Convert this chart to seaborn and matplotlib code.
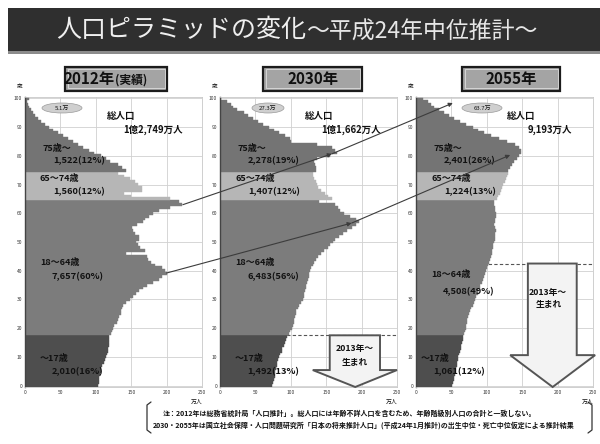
import numpy as np
import pandas as pd
import matplotlib
matplotlib.use("Agg")
import matplotlib.pyplot as plt
import seaborn as sns
from matplotlib.patches import Rectangle, Ellipse, Polygon, ConnectionPatch
from matplotlib.lines import Line2D

# ---- data: population by single year of age (万人), ages 0..100 ----
ages = list(range(101))

pop_2012 = [
    103, 104, 104, 105, 106, 107, 108, 109, 111, 113, 115, 116, 117, 117, 118, 119, 119, 119,
    122, 123, 124, 126, 130, 131, 133, 135, 136, 137, 139, 142,
    148, 153, 157, 161, 167, 173, 181, 189, 193, 200,
    198, 194, 183, 178, 174, 172, 143, 170, 163, 159,
    157, 161, 161, 156, 153, 151, 158, 166, 170, 175,
    181, 189, 205, 222, 218,
    205, 150, 140, 165, 165, 160, 155, 148, 140, 132,
    142, 137, 131, 120, 115, 108, 98, 90, 82, 75, 68, 61, 54, 47, 40, 34, 28, 23, 18, 14,
    11, 8, 6, 4, 3, 5,
]
pop_2030 = [
    74, 75, 76, 77, 77, 78, 79, 80, 81, 82, 84, 85, 87, 88, 90, 92, 93, 94,
    97, 99, 101, 103, 104, 105, 106, 107, 108, 110, 112, 114,
    117, 118, 119, 120, 121, 122, 123, 124, 125, 126,
    127, 129, 131, 133, 136, 139, 143, 147, 152, 156,
    159, 163, 168, 174, 180, 186, 192, 197, 192, 183,
    175, 170, 167, 163, 140,
    158, 153, 148, 142, 139, 137, 135, 133, 131, 131,
    136, 135, 134, 133, 137, 155, 165, 162, 158, 137, 100, 99, 92, 84, 76, 69, 61, 54, 47, 40,
    34, 24, 19, 15, 10, 2,
]
pop_2055 = [
    51, 52, 53, 54, 55, 56, 57, 58, 58, 59, 60, 61, 62, 63, 64, 65, 66, 67,
    68, 69, 70, 71, 72, 72, 73, 75, 76, 78, 80, 82,
    83, 85, 87, 88, 90, 91, 93, 94, 96, 97,
    99, 100, 102, 103, 105, 106, 107, 108, 109, 109,
    110, 111, 112, 112, 113, 111, 110, 111, 112, 113,
    113, 111, 111, 110, 110,
    115, 116, 118, 120, 121, 123, 125, 127, 129, 130,
    130, 133, 136, 139, 142, 145, 148, 149, 146, 140, 128, 117, 106, 96, 88, 80, 71, 62, 54, 46,
    39, 33, 25, 21, 17, 10,
]

group_names = ["～17歳", "18～64歳", "65～74歳", "75歳～"]
group_starts = [0, 18, 65, 75]
shares_2012 = [16, 60, 12, 12]
shares_2030 = [13, 56, 12, 19]
shares_2055 = [12, 49, 13, 26]

years = ["2012年", "2030年", "2055年"]
year_notes = ["(実績)", "", ""]
total_labels = ["1億2,749万人", "1億1,662万人", "9,193万人"]
centenarian_labels = ["5.1万", "27.3万", "63.7万"]
x_ticks = [0, 50, 100, 150, 200, 250]
y_ticks = [0, 10, 20, 30, 40, 50, 60, 70, 80, 90, 100]

series = [pop_2012, pop_2030, pop_2055]
shares = [shares_2012, shares_2030, shares_2055]

palette = {"～17歳": "#4e4e4e", "18～64歳": "#7c7c7c",
           "65～74歳": "#b6b6b6", "75歳～": "#747474"}

sns.set_theme(style="white")
plt.rcParams["font.family"] = ["Noto Sans CJK JP", "DejaVu Sans"]

W, H = 600, 444
fig = plt.figure(figsize=(6, 4.44), dpi=100)
fig.patch.set_facecolor("white")


def fx(x):
    return x / W


def fy(y):
    return 1 - y / H


def ftext(x, y, s, **kw):
    kw.setdefault("va", "center")
    kw.setdefault("ha", "left")
    kw.setdefault("color", "#111111")
    return fig.text(fx(x), fy(y), s, **kw)


def group_of(age):
    g = 0
    for i, s in enumerate(group_starts):
        if age >= s:
            g = i
    return group_names[g]


# ---- title bar ----
fig.add_artist(Rectangle((fx(8), fy(52)), fx(600) - fx(8), 44 / H,
                         transform=fig.transFigure, fc="#2f2f2f", ec="none"))
fig.add_artist(Rectangle((fx(8), fy(54)), fx(600) - fx(8), 2.5 / H,
                         transform=fig.transFigure, fc="#8c8c8c", ec="none"))
t1 = ftext(56, 30, "人口ピラミッドの変化", fontsize=18, color="#efefef")
renderer = fig.canvas.get_renderer()
bb = t1.get_window_extent(renderer)
ftext(bb.x1 * 600 / fig.bbox.width, 32, "～平成24年中位推計～", fontsize=16.5, color="#e6e6e6")

# ---- panels ----
panel_left = [25, 220, 416]
panel_w = 177
top, bottom = 97, 387
axes = []

for i in range(3):
    ax = fig.add_axes([fx(panel_left[i]), fy(bottom), panel_w / W, (bottom - top) / H])
    df = pd.DataFrame({"age": ages, "pop": series[i],
                       "group": [group_of(a) for a in ages]})
    sns.barplot(data=df, x="pop", y="age", hue="group", hue_order=group_names,
                palette=palette, orient="y", native_scale=True, dodge=False,
                width=1.0, saturation=1, errorbar=None, legend=False,
                linewidth=0, ax=ax)
    for p in ax.patches:
        p.set_edgecolor(p.get_facecolor())
        p.set_linewidth(0.3)
    ax.set_xlim(0, 250)
    ax.set_ylim(-0.5, 100.5)
    ax.set_xticks(x_ticks)
    ax.set_yticks(y_ticks)
    ax.set_xlabel("")
    ax.set_ylabel("")
    ax.tick_params(axis="both", labelsize=3.5, length=0, pad=2, colors="#333333")
    ax.grid(True, color="#d0d0d0", lw=0.6)
    ax.set_axisbelow(True)
    for side in ["top", "right", "bottom"]:
        ax.spines[side].set_color("#c8c8c8")
        ax.spines[side].set_linewidth(0.6)
    ax.spines["left"].set_color("#444444")
    ax.spines["left"].set_linewidth(1.0)
    ax.set_facecolor("white")
    axes.append(ax)

    off = panel_left[i] - 25
    # unit labels
    ftext(panel_left[i] - 5, 86, "歳", fontsize=4, ha="center")
    ftext(panel_left[i] + 172, 402, "万人", fontsize=4.2, ha="center")

    # year header box
    bx0, bx1 = [65, 263, 462][i], [167, 362, 560][i]
    fig.add_artist(Rectangle((fx(bx0), fy(91)), fx(bx1) - fx(bx0), 24 / H,
                             transform=fig.transFigure, fc="#a4a4a4", ec="#1c1c1c", lw=1.6))
    fig.add_artist(Rectangle((fx(bx0 + 2.5), fy(88.5)), fx(bx1 - bx0 - 5), 19 / H,
                             transform=fig.transFigure, fc="none", ec="#e8e8e8", lw=0.5))
    cx = (bx0 + bx1) / 2
    if year_notes[i]:
        ftext(cx - 1, 79, years[i], fontsize=11, fontweight="bold", ha="right")
        ftext(cx - 1, 80, year_notes[i], fontsize=8.5, fontweight="bold", ha="left")
    else:
        ftext(cx, 79, years[i], fontsize=11, fontweight="bold", ha="center")

    # centenarians bubble
    ex, ew = [(62, 40), (268, 32), (482, 40)][i]
    fig.add_artist(Ellipse((fx(ex), fy(108)), ew / W, 10 / H, transform=fig.transFigure,
                           fc="#cfcfcf", ec="#9a9a9a", lw=0.5))
    ftext(ex, 108, centenarian_labels[i], fontsize=4.3, ha="center")

    # total population
    tx = [107, 305, 507][i]
    ftext(tx, 116, "総人口", fontsize=6.8, fontweight="bold")
    ftext(tx + 16 + (5 if i == 2 else 0), 130, total_labels[i], fontsize=6.8, fontweight="bold")

    # group labels from the bar values
    vals = np.array(series[i])
    sums = [int(vals[group_starts[g]:(group_starts[g + 1] if g < 3 else 101)].sum())
            for g in range(4)]
    name_pos = [(40, 359), (40, 263), (40, 179), (42, 148)]
    val_pos = [(52, 372), (52, 277), (53, 192), (53, 161)]
    if i == 2:
        name_pos[1] = (40, 275)
        val_pos[1] = (52, 292)
        name_pos[0] = (30, 358)
        val_pos[0] = (42, 372)
    for g in range(4):
        nx, ny = name_pos[g]
        vx, vy = val_pos[g]
        ftext(nx + off, ny, group_names[g], fontsize=6.5, fontweight="bold")
        ftext(vx + off, vy, f"{sums[g]:,}({shares[i][g]}%)", fontsize=6.7, fontweight="bold")

# ---- "2013年～生まれ" arrows with cohort boundary ----
arrow_specs = [
    (axes[1], 17.5, 5.4, (155, 226), (131, 250), 191),
    (axes[2], 42.5, 10.6, (158, 227), (133, 253), 193),
]
for ax, ytop, yhead, (s0, s1), (h0, h1), tip in arrow_specs:
    ax.axhline(ytop, color="#555555", lw=0.8, ls=(0, (3, 2)), zorder=0.9)
    pts = [(s0, ytop), (s1, ytop), (s1, yhead), (h1, yhead), (tip, -0.5),
           (h0, yhead), (s0, yhead)]
    ax.add_patch(Polygon(pts, closed=True, fc="#f3f3f3", ec="#555555", lw=1.4,
                         zorder=3, clip_on=False, joinstyle="miter"))
ftext(355, 349, "2013年～", fontsize=6.3, fontweight="bold", ha="center")
ftext(355, 362, "生まれ", fontsize=6.3, fontweight="bold", ha="center")
ftext(548, 292, "2013年～", fontsize=6.3, fontweight="bold", ha="center")
ftext(549, 304, "生まれ", fontsize=6.3, fontweight="bold", ha="center")

# ---- cohort tracking lines across panels ----
links = [
    [(0, 223, 63), (1, 158, 80.7), (2, 52, 98.4)],
    [(0, 200, 39.2), (1, 186, 56.6), (2, 133, 80.3)],
]
for path in links:
    for (ia, xa, ya), (ib, xb, yb) in zip(path[:-1], path[1:]):
        cp = ConnectionPatch(xyA=(xa, ya), coordsA=axes[ia].transData,
                             xyB=(xb, yb), coordsB=axes[ib].transData,
                             arrowstyle="-|>", mutation_scale=6, lw=0.8,
                             color="#3c3c3c", zorder=10)
        fig.add_artist(cp)

# ---- footnote ----
for xs in ([151, 147, 147, 151], [588, 592, 592, 588]):
    fig.add_artist(Line2D([fx(x) for x in xs], [fy(402), fy(405), fy(430), fy(433)],
                          transform=fig.transFigure, color="#333333", lw=0.9))
ftext(163, 413, "注：2012年は総務省統計局「人口推計」。総人口には年齢不詳人口を含むため、年齢階級別人口の合計と一致しない。",
      fontsize=5, fontweight="bold")
ftext(153, 425, "2030・2055年は国立社会保障・人口問題研究所「日本の将来推計人口」(平成24年1月推計)の出生中位・死亡中位仮定による推計結果",
      fontsize=5, fontweight="bold")

fig.savefig("out.png", dpi=100, facecolor="white")
